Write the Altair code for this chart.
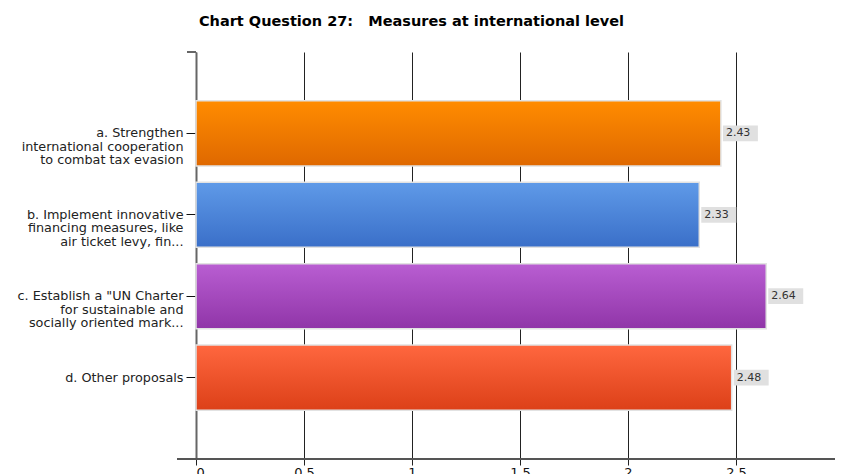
import altair as alt
import pandas as pd

categories = [
    "a. Strengthen\ninternational cooperation\nto combat tax evasion",
    "b. Implement innovative\nfinancing measures, like\nair ticket levy, fin...",
    "c. Establish a \"UN Charter\nfor sustainable and\nsocially oriented mark...",
    "d. Other proposals",
]
values = [2.43, 2.33, 2.64, 2.48]
labels = ["2.43", "2.33", "2.64", "2.48"]
top_colors = ["#FF8C00", "#5F9AE8", "#B95ED2", "#FF673F"]
bottom_colors = ["#DF6800", "#3A6FC8", "#9035A8", "#DC4018"]
x_ticks = [0, 0.5, 1, 1.5, 2, 2.5]

df = pd.DataFrame({"cat": categories, "value": values, "label": labels})

FONT = "DejaVu Sans"
FULL_W = 648   # pixel span of the 0..3 domain
W, H = 639, 407

y_enc = alt.Y(
    "cat:N",
    sort=categories,
    scale=alt.Scale(domain=categories, paddingInner=0.2, paddingOuter=0.6),
    axis=alt.Axis(
        title=None,
        labelExpr="split(datum.label, '\\n')",
        labelFont=FONT,
        labelFontSize=12.8,
        labelColor="#222222",
        labelLineHeight=13.5,
        labelPadding=3,
        labelLimit=400,
        tickSize=10,
        tickColor="#111111",
        tickWidth=1,
        domainColor="#666666",
        domainWidth=2,
        grid=False,
    ),
)
x_scale = alt.Scale(domain=[0, 3], range=[0, FULL_W], nice=False)

base = alt.Chart(df)

grid = base.mark_rule(color="#222222", strokeWidth=1).encode(
    x=alt.X(
        "value:Q",
        scale=x_scale,
        axis=alt.Axis(
            title=None,
            values=x_ticks,
            format="~g",
            labelFont=FONT,
            labelFontSize=13,
            labelColor="#111111",
            labelPadding=1,
            tickSize=6,
            tickColor="#222222",
            domain=False,
            grid=True,
            gridColor="#222222",
            gridWidth=1,
            gridOpacity=1,
        ),
    ),
    opacity=alt.value(0),
)

layers = [grid]
for i, c in enumerate(categories):
    grad = alt.Gradient(
        gradient="linear",
        x1=0, x2=0, y1=0, y2=1,
        stops=[
            alt.GradientStop(color=top_colors[i], offset=0),
            alt.GradientStop(color=bottom_colors[i], offset=1),
        ],
    )
    layers.append(
        base.transform_filter(alt.datum.cat == c)
        .mark_bar(color=grad, stroke="#e2e2e2", strokeWidth=1.5)
        .encode(x=alt.X("value:Q", scale=x_scale), y=y_enc)
    )

box = base.mark_point(
    shape="M-1,-0.45H1V0.45H-1Z",
    size=1225,
    filled=True,
    color="#e0e0e0",
    opacity=1,
    xOffset=19.5,
).encode(x=alt.X("value:Q", scale=x_scale), y=y_enc)

text = base.mark_text(
    align="left", baseline="middle", dx=5, font=FONT, fontSize=11, color="#333333"
).encode(x=alt.X("value:Q", scale=x_scale), y=y_enc, text="label:N")

xaxis_line = base.mark_rule(color="#555555", strokeWidth=1.5).encode(
    x=alt.value(-19), x2=alt.value(W), y=alt.value(H)
)
top_tick = base.mark_rule(color="#666666", strokeWidth=1.5).encode(
    x=alt.value(-9), x2=alt.value(0), y=alt.value(0)
)

chart = (
    alt.layer(*layers, box, text, xaxis_line, top_tick)
    .properties(
        width=W,
        height=H,
        title=alt.TitleParams(
            "Chart Question 27:\u00a0\u00a0\u00a0Measures at international level",
            font=FONT,
            fontSize=14.5,
            fontWeight="bold",
            color="#000000",
            anchor="middle",
            frame="group",
            dx=-104,
            offset=22,
        ),
        autosize=alt.AutoSizeParams(type="none"),
        padding={"left": 188, "top": 44, "right": 0, "bottom": 20},
    )
    .configure_view(stroke=None)
)

chart.save("out.html", embed_options={"renderer": "svg", "actions": False})
